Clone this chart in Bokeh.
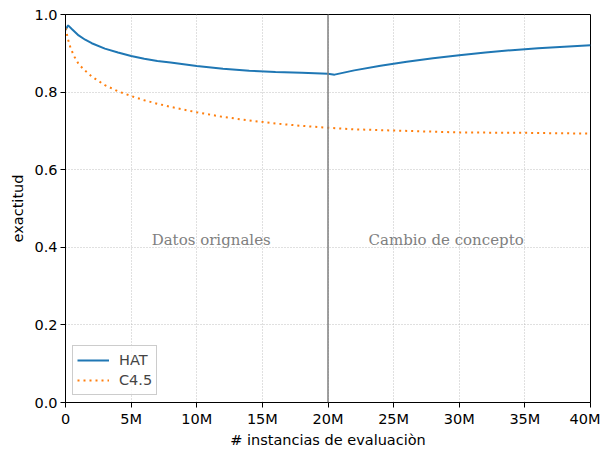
from bokeh.plotting import figure
from bokeh.models import Span, Label, FixedTicker, Legend, LegendItem
from bokeh.embed import file_html
from bokeh.resources import INLINE

# x in millions of instances
hat_x = [0, 0.2, 0.5, 1, 1.5, 2, 3, 4, 5, 6, 7, 8, 10, 12, 14, 16, 18, 20, 20.5, 22, 24, 26, 28, 30, 32, 34, 36, 38, 40]
hat_y = [0.96, 0.972, 0.962, 0.946, 0.935, 0.926, 0.912, 0.902, 0.893, 0.886, 0.880, 0.876, 0.867, 0.860, 0.855,
         0.852, 0.850, 0.847, 0.845, 0.856, 0.868, 0.878, 0.887, 0.895, 0.902, 0.908, 0.913, 0.917, 0.921]
c45_x = [0, 0.2, 0.4, 0.7, 1, 1.5, 2, 3, 4, 5, 6, 7, 8, 10, 12, 14, 16, 18, 20, 22, 25, 28, 30, 35, 40]
c45_y = [0.965, 0.935, 0.912, 0.89, 0.872, 0.855, 0.84, 0.818, 0.802, 0.79, 0.779, 0.77, 0.762, 0.748, 0.736,
         0.727, 0.719, 0.713, 0.708, 0.704, 0.701, 0.698, 0.696, 0.695, 0.693]
x_ticks = [0, 5, 10, 15, 20, 25, 30, 35, 40]
x_tick_labels = ["0", "5M", "10M", "15M", "20M", "25M", "30M", "35M", "40M"]
y_ticks = [0.0, 0.2, 0.4, 0.6, 0.8, 1.0]
y_tick_labels = ["0.0", "0.2", "0.4", "0.6", "0.8", "1.0"]
split_x = 20
annotations = [("Datos orignales", 11.1, 0.42), ("Cambio de concepto", 29, 0.42)]

FS = "14.5px"
p = figure(width=600, height=450, output_backend="svg", toolbar_location=None,
           x_range=(0, 40), y_range=(0, 1),
           min_border_left=65, min_border_right=10, min_border_top=14, min_border_bottom=45)
p.outline_line_color = "black"
p.outline_line_width = 1
p.background_fill_color = "white"

for ax in (p.xaxis[0], p.yaxis[0]):
    ax.major_label_text_font = "DejaVu Sans"
    ax.major_label_text_font_size = FS
    ax.axis_label_text_font = "DejaVu Sans"
    ax.axis_label_text_font_size = FS
    ax.axis_label_text_font_style = "normal"
    ax.minor_tick_line_color = None
    ax.major_tick_out = 5
    ax.major_tick_in = 0
    ax.axis_line_color = "black"
    ax.major_label_text_color = "black"
    ax.axis_label_text_color = "black"
    ax.major_label_standoff = 3

p.xaxis.ticker = FixedTicker(ticks=x_ticks)
p.xaxis.major_label_overrides = {t: l for t, l in zip(x_ticks, x_tick_labels)}
p.yaxis.ticker = FixedTicker(ticks=y_ticks)
p.yaxis.major_label_overrides = {t: l for t, l in zip(y_ticks, y_tick_labels)}
p.xaxis.axis_label = "# instancias de evaluaciòn"
p.yaxis.axis_label = "exactitud"
p.xaxis.axis_label_standoff = 2
p.yaxis.axis_label_standoff = 5

p.xgrid.grid_line_color = "#b0b0b0"
p.ygrid.grid_line_color = "#b0b0b0"
p.xgrid.grid_line_dash = "1 2"
p.ygrid.grid_line_dash = "1 2"
p.xgrid.grid_line_width = 0.8
p.ygrid.grid_line_width = 0.8

r1 = p.line(hat_x, hat_y, line_color="#1f77b4", line_width=2)
r2 = p.line(c45_x, c45_y, line_color="#ff7f0e", line_width=2, line_dash="2 4")

p.add_layout(Span(location=split_x, dimension="height", line_color="#808080", line_width=1.5))

for txt, x, y in annotations:
    p.add_layout(Label(x=x, y=y, text=txt, text_align="center", text_baseline="middle",
                       text_font="DejaVu Serif", text_font_size="15px", text_color="#808080"))

legend = Legend(items=[LegendItem(label="HAT", renderers=[r1]), LegendItem(label="C4.5", renderers=[r2])],
                location="bottom_left")
legend.label_text_font = "DejaVu Sans"
legend.label_text_font_size = FS
legend.border_line_color = "#cccccc"
legend.border_line_alpha = 1
legend.background_fill_alpha = 0.8
legend.margin = 7
legend.padding = 4
legend.spacing = 0
legend.glyph_width = 32
legend.label_standoff = 10
p.add_layout(legend)

open("out.html", "w").write(file_html(p, INLINE))
